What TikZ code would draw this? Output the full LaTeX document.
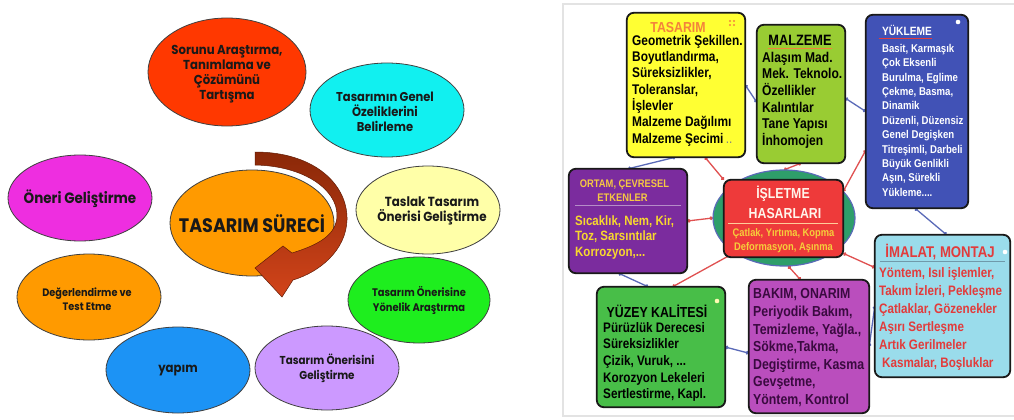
\documentclass[tikz,border=0pt]{standalone}
\usepackage{fontspec}
\setmainfont{Liberation Sans}
\newfontfamily\lf{Poppins}[FakeStretch=0.9]
\newfontfamily\rf{Liberation Sans}[FakeStretch=0.85]
\usetikzlibrary{shapes.geometric,arrows.meta,calc}
\newcommand\myfl{\rule{0pt}{1em}}
\newcommand\fs[2]{\fontsize{#1}{#2}\selectfont}
\definecolor{cRed}{HTML}{FF3800}
\definecolor{cCyan}{HTML}{11F0F0}
\definecolor{cMag}{HTML}{EE2EE0}
\definecolor{cOra}{HTML}{FF9A00}
\definecolor{cLYel}{HTML}{FFFFA8}
\definecolor{cGrn}{HTML}{1EEE1E}
\definecolor{cBlu}{HTML}{1C93F5}
\definecolor{cLav}{HTML}{CC99FF}
\definecolor{arrTop}{HTML}{8A2808}
\definecolor{arrBot}{HTML}{D2441A}
\definecolor{bTas}{HTML}{FFFF33}
\definecolor{bMal}{HTML}{99CC33}
\definecolor{bYuk}{HTML}{4152B6}
\definecolor{bOrt}{HTML}{7B2C9E}
\definecolor{bIslE}{HTML}{2E9E6A}
\definecolor{bIslR}{HTML}{EE3A3A}
\definecolor{bIma}{HTML}{9ADCEB}
\definecolor{bYuz}{HTML}{48BE48}
\definecolor{bBak}{HTML}{BA4EBD}
\definecolor{conred}{HTML}{E05050}
\definecolor{conblue}{HTML}{5A6AB8}
\definecolor{tOra}{HTML}{F4823C}
\definecolor{tGold}{HTML}{F5C842}
\definecolor{tImRed}{HTML}{E23B3B}
\definecolor{tBak}{HTML}{3A0A40}
\definecolor{frameC}{HTML}{E3E3E3}
\definecolor{sepOrt}{HTML}{B58CC8}
\definecolor{sepIma}{HTML}{6F9AAA}
\begin{document}
\begin{tikzpicture}[x=1pt,y=-1pt,
  lell/.style={ellipse, draw=black!75, line width=0.8pt, inner sep=0pt},
  ltxt/.style={font=\lf\bfseries, text=black!90, align=center, inner sep=0pt},
  rbox/.style={inner sep=0pt},
  boxfill/.style={rounded corners=7pt},
  boxline/.style={draw=black!90, line width=1.8pt, rounded corners=7pt},
  rtxt/.style={font=\rf\bfseries, align=left, inner sep=0pt, anchor=north west},
  rtit/.style={font=\rf\bfseries, inner sep=0pt, anchor=base},
  redc/.style={draw=conred, line width=1.3pt, {Circle[length=3.5pt]}-{Circle[length=3.5pt]}},
  bluec/.style={draw=conblue, line width=1.3pt, {Circle[length=3.5pt]}-{Circle[length=3.5pt]}}
]
\useasboundingbox (0,0) rectangle (1014,420);
\fill[white] (0,0) rectangle (1014,420);

% ---------------- left half ----------------
\node[lell, fill=cRed, minimum width=158pt, minimum height=108pt] (e1) at (227,72) {};
\node[lell, fill=cCyan, minimum width=154pt, minimum height=94pt] (e2) at (387,110) {};
\node[lell, fill=cMag, minimum width=144pt, minimum height=86pt] (e3) at (80,198) {};
\node[lell, fill=cLYel, minimum width=144pt, minimum height=88pt] (e4) at (428,210) {};
\node[lell, fill=cGrn, minimum width=142pt, minimum height=86pt] (e5) at (419,300) {};
\node[lell, fill=cOra, minimum width=144pt, minimum height=86pt] (e6) at (89,297) {};
\node[lell, fill=cBlu, minimum width=144pt, minimum height=86pt] (e7) at (178,370) {};
\node[lell, fill=cLav, minimum width=144pt, minimum height=84pt] (e8) at (327,368) {};
\node[lell, fill=cOra, minimum width=164pt, minimum height=106pt] (ec) at (252,223) {};

\node[ltxt, font=\lf\bfseries\fs{13}{15}] (t1) at (227,74.5) {Sorunu Araştırma,\\Tanımlama ve\\Çözümünü\\Tartışma};
\node[ltxt, font=\lf\bfseries\fs{12.8}{15}] (t2) at (385,112) {Tasarımın Genel\\Özeliklerini\\Belirleme};
\node[ltxt, font=\lf\bfseries\fs{15}{17}] (t3) at (80,199) {Öneri Geliştirme};
\node[ltxt, font=\lf\bfseries\fs{13.2}{15}] (t4) at (432,210.5) {Taslak Tasarım\\Önerisi Geliştirme};
\node[ltxt, font=\lf\bfseries\fs{11}{15}] (t5) at (419,300.5) {Tasarım Önerisine\\Yönelik Araştırma};
\node[ltxt, font=\lf\bfseries\fs{10.8}{14}] (t6) at (87,299) {Değerlendirme ve\\Test Etme};
\node[ltxt, font=\lf\bfseries\fs{13}{16}] (t7) at (178,371) {yapım};
\node[ltxt, font=\lf\bfseries\fs{11.5}{15}] (t8) at (327,368.5) {Tasarım Önerisini\\Geliştirme};
\node[ltxt, font=\lf\bfseries\fs{19.5}{22}] (tc) at (252,224) {TASARIM SÜRECİ};

% curved arrow
\path[top color=arrTop, bottom color=arrBot, draw=arrTop!70!black, line width=0.5pt]
  (255,152) .. controls (315,152) and (348,185) .. (347,220)
  .. controls (346,250) and (320,272) .. (293,280)
  -- (282,297) -- (255,268) -- (283,246) -- (292,253)
  .. controls (318,245) and (337,235) .. (337,215)
  .. controls (337,190) and (305,166) .. (255,165) -- cycle;

% ---------------- right half ----------------
\draw[frameC, line width=1.5pt] (1014,4) -- (563,4) -- (563,416) -- (1014,416);

% box positions
\node[rbox, minimum width=118pt, minimum height=144pt] (tas) at (686,85) {};
\node[rbox, minimum width=88pt, minimum height=138pt] (mal) at (801,94) {};
\node[rbox, minimum width=102pt, minimum height=193pt] (yuk) at (917,111.5) {};
\node[rbox, minimum width=118pt, minimum height=104pt] (ort) at (628,221) {};
\node[ellipse, inner sep=0pt, minimum width=142pt, minimum height=96pt] (isle) at (784,218) {};
\node[rbox, minimum width=119pt, minimum height=77pt] (islr) at (783.5,218.5) {};
\node[rbox, minimum width=135pt, minimum height=142pt] (ima) at (942.5,306) {};
\node[rbox, minimum width=128pt, minimum height=120pt] (yuz) at (661,347) {};
\node[rbox, minimum width=120pt, minimum height=133pt] (bak) at (809,346.5) {};

% connectors (behind boxes)
\draw[redc] ($(tas.south west)!0.66!(tas.south east)$) -- (islr.north west);
\draw[redc] (mal.south) -- (isle.north);
\draw[redc] ($(yuk.north west)!0.7!(yuk.south west)$) -- ($(islr.north east)!0.15!(islr.south east)$);
\draw[redc] (ort.east) -- (isle.west);
\draw[redc] ($(yuz.north west)!0.59!(yuz.north east)$) -- (isle.-145);
\draw[redc] ($(bak.north west)!0.43!(bak.north east)$) -- (isle.-85);
\draw[redc] ($(ima.north west)!0.23!(ima.south west)$) -- ($(islr.south east)!0.05!(islr.north east)$);
\draw[bluec] (tas.east) -- ($(mal.north west)!0.56!(mal.south west)$);
\draw[bluec] ($(mal.north east)!0.53!(mal.south east)$) -- (yuk.west);
\draw[bluec] ($(tas.south west)!0.41!(tas.south east)$) -- (ort.north);
\draw[bluec] ($(ort.south west)!0.42!(ort.south east)$) -- ($(yuz.north west)!0.4!(yuz.north east)$);
\draw[bluec] (yuz.east) -- ($(bak.north west)!0.55!(bak.south west)$);
\draw[bluec] (bak.east) -- (ima.west);
\draw[bluec] ($(yuk.south west)!0.48!(yuk.south east)$) -- ($(ima.north west)!0.53!(ima.north east)$);

% boxes drawn over connectors
\fill[boxfill, bTas] (tas.south west) rectangle (tas.north east);
\draw[boxline] (tas.south west) rectangle (tas.north east);
\fill[boxfill, bMal] (mal.south west) rectangle (mal.north east);
\draw[boxline] (mal.south west) rectangle (mal.north east);
\fill[boxfill, bYuk] (yuk.south west) rectangle (yuk.north east);
\draw[boxline] (yuk.south west) rectangle (yuk.north east);
\fill[boxfill, bOrt] (ort.south west) rectangle (ort.north east);
\draw[boxline] (ort.south west) rectangle (ort.north east);
\draw[fill=bIslE, draw=conblue, line width=1.2pt] (isle.center) ellipse [x radius=71pt, y radius=48pt];
\fill[boxfill, bIslR] (islr.south west) rectangle (islr.north east);
\draw[boxline] (islr.south west) rectangle (islr.north east);
\fill[boxfill, bIma] (ima.south west) rectangle (ima.north east);
\draw[boxline] (ima.south west) rectangle (ima.north east);
\fill[boxfill, bYuz] (yuz.south west) rectangle (yuz.north east);
\draw[boxline] (yuz.south west) rectangle (yuz.north east);
\fill[boxfill, bBak] (bak.south west) rectangle (bak.north east);
\draw[boxline] (bak.south west) rectangle (bak.north east);

% TASARIM
\node[rtit, text=tOra, font=\rf\bfseries\fs{14.5}{17}] (tasT) at (678,32.2) {TASARIM};
\foreach \dx/\dy in {-2/-2,2/-2,-2/2,2/2} \fill[tOra] (732+\dx,23+\dy) circle (1.1pt);
\node[rtxt, font=\rf\bfseries\fs{14}{16.3}] (tasB) at (632,31) {\myfl Geometrik Şekillen.\\Boyutlandırma,\\Süreksizlikler,\\Toleranslar,\\İşlevler\\Malzeme Dağılımı\\Malzeme Şecimi\,{\mdseries\color{black!50}..}};
% MALZEME
\node[rtit, font=\rf\bfseries\fs{15}{17}] (malT) at (800,45.4) {MALZEME};
\draw[tOra, line width=1pt] ([yshift=-3pt]malT.base west) -- ([yshift=-3pt]malT.base east);
\node[rtxt, font=\rf\bfseries\fs{14.2}{16.6}] (malB) at (762,47.9) {\myfl Alaşım Mad.\\Mek. Teknolo.\\Özellikler\\Kalıntılar\\Tane Yapısı\\İnhomojen};
% YUKLEME
\node[rtit, text=white, font=\rf\bfseries\fs{12}{14}] (yukT) at (907,35.3) {YÜKLEME};
\draw[tImRed, line width=1pt] ([yshift=-3.5pt,xshift=-3pt]yukT.base west) -- ([yshift=-3.5pt]yukT.base east);
\fill[white] (958,22) circle (2.3pt);
\node[rtxt, text=white, font=\rf\bfseries\fs{11.3}{14.4}] (yukB) at (882,40.8) {\myfl Basit, Karmaşık\\Çok Eksenli\\Burulma, Eglime\\Çekme, Basma,\\Dinamik\\Düzenli, Düzensiz\\Genel Degişken\\Titreşimli, Darbeli\\Büyük Genlikli\\Aşın, Sürekli\\Yükleme....};
% ORTAM
\node[rtit, text=tGold, font=\rf\bfseries\fs{11}{14}] (ortT1) at (624.5,187) {ORTAM, ÇEVRESEL};
\node[rtit, text=tGold, font=\rf\bfseries\fs{11}{14}] (ortT2) at (622.5,201) {ETKENLER};
\draw[sepOrt, line width=0.6pt] (575,205) -- (681,205);
\node[rtxt, text=tGold!70!yellow, font=\rf\bfseries\fs{13.5}{15.5}] (ortB) at (575,211.4) {\myfl Sıcaklık, Nem, Kir,\\Toz, Sarsıntılar\\Korrozyon,...};
% ISLETME
\node[rtit, text=orange!8, font=\rf\bfseries\fs{14.5}{17}] (islT1) at (783,198) {İŞLETME};
\node[rtit, text=orange!8, font=\rf\bfseries\fs{14.5}{17}] (islT2) at (785,218) {HASARLARI};
\draw[orange!40, line width=0.6pt] (728,223) -- (838,223);
\node[font=\rf\bfseries\fs{11}{14}, text=tGold!90!yellow, align=center, inner sep=0pt, anchor=north] (islB) at (783.5,225) {\myfl Çatlak, Yırtıma, Kopma\\Deformasyon, Aşınma};
% IMALAT
\node[rtit, text=tImRed, font=\rf\bfseries\fs{15.5}{18}] (imaT) at (940,257.6) {İMALAT, MONTAJ};
\draw[sepIma, line width=0.6pt] (880,261) -- (1005,261);
\fill[white] (1005,252) circle (2.3pt);
\node[rtxt, text=tImRed, font=\rf\bfseries\fs{13.7}{18}] (imaB) at (879,263.2) {\myfl Yöntem, Isıl işlemler,\\Takım İzleri, Pekleşme\\Çatlaklar, Gözenekler\\Aşırı Sertleşme\\Artık Gerilmeler\\\hspace*{3pt}Kasmalar, Boşluklar};
% YUZEY
\node[rtit, font=\rf\bfseries\fs{14.5}{17}] (yuzT) at (657,317) {YÜZEY KALİTESİ};
\fill[yellow!30] (717,301) circle (2.3pt);
\node[rtxt, font=\rf\bfseries\fs{13.8}{16.6}] (yuzB) at (603,318.2) {\myfl Pürüzlük Derecesi\\Süreksizlikler\\Çizik, Vuruk, ...\\Korozyon Lekeleri\\Sertlestirme, Kapl.};
% BAKIM
\node[rtit, anchor=base west, text=tBak, font=\rf\bfseries\fs{14.5}{17}] (bakT) at (753,298) {BAKIM, ONARIM};
\node[rtxt, text=tBak, font=\rf\bfseries\fs{14.5}{17.6}] (bakB) at (753,301.7) {\myfl Periyodik Bakım,\\Temizleme, Yağla.,\\Sökme,Takma,\\Degiştirme, Kasma\\Gevşetme,\\Yöntem, Kontrol};
\end{tikzpicture}
\end{document}
